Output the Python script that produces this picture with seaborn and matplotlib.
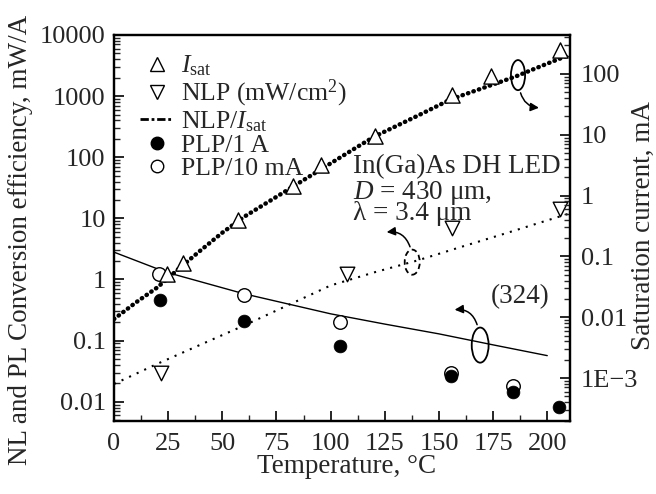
import numpy as np
import pandas as pd
import matplotlib
matplotlib.use('Agg')
import matplotlib.pyplot as plt
import seaborn as sns
from matplotlib.patches import Ellipse, FancyArrowPatch
from matplotlib.lines import Line2D
from matplotlib.ticker import FixedLocator, FixedFormatter, LogLocator, MultipleLocator, NullFormatter

# ---------------- data ----------------
# Saturation current (right axis, mA)
isat_T = [24.3, 31.7, 57.4, 82.5, 95.5, 120.4, 155.8, 174.0, 206.0]
isat_val = [0.051, 0.077, 0.39, 1.42, 3.14, 9.4, 45.0, 93.0, 247.0]
# fit curve for Isat (right axis)
isat_fit_T = [0, 10, 20, 30, 40, 50, 60, 70, 80, 90, 100, 110, 120, 140, 155, 160, 180, 186, 200, 210]
isat_fit_log = [-2.03, -1.76, -1.51, -1.20, -0.90, -0.61, -0.35, -0.13, 0.09, 0.31, 0.53, 0.75, 0.967,
                1.31, 1.574, 1.64, 1.89, 1.967, 2.17, 2.31]

# NLP (left axis, mW/cm^2)
nlp_T = [21.7, 107.4, 155.8, 206.0]
nlp_val = [0.030, 1.24, 6.9, 14.4]
nlp_fit_T = [0, 20, 40, 60, 80, 100, 120, 140, 160, 180, 200, 210]
nlp_fit_log = [-1.71, -1.38, -1.066, -0.754, -0.426, -0.098, 0.115, 0.31, 0.53, 0.746, 0.967, 1.077]

# NLP/Isat curve (left axis)
ratio_T = [0, 24, 60, 100, 125, 150, 175, 200]
ratio_log = [0.447, 0.12, -0.234, -0.562, -0.73, -0.89, -1.07, -1.246]

# PLP conversion efficiency (left axis)
plp1A_T = [21.2, 60.1, 104.3, 155.4, 184.3, 205.5]
plp1A_val = [0.453, 0.213, 0.083, 0.0267, 0.0146, 0.0081]
plp10_T = [20.9, 60.1, 104.3, 155.4, 184.3]
plp10_val = [1.21, 0.56, 0.205, 0.030, 0.018]

left_ticks = [10000, 1000, 100, 10, 1, 0.1, 0.01]
left_labels = ['10000', '1000', '100', '10', '1', '0.1', '0.01']
right_ticks = [100, 10, 1, 0.1, 0.01, 0.001]
right_labels = ['100', '10', '1', '0.1', '0.01', '1E\u22123']
x_ticks = [0, 25, 50, 75, 100, 125, 150, 175, 200]

# ---------------- style ----------------
sns.set_theme(style='ticks')
plt.rcParams['font.family'] = ['Liberation Serif', 'DejaVu Serif']
plt.rcParams['mathtext.fontset'] = 'custom'
plt.rcParams['mathtext.rm'] = 'Liberation Serif'
plt.rcParams['mathtext.it'] = 'Liberation Serif:italic'
plt.rcParams['axes.linewidth'] = 1.6
TICK_FS = 19
LAB_FS = 19.5
RLAB_FS = 19.5
LEG_FS = 18.5
ANN_FS = 19.5

fig = plt.figure(figsize=(6.56, 4.94), dpi=100)
ax = fig.add_axes([114/656, 1-420.7/494, 456/656, 385.7/494])
ax2 = ax.twinx()

df_nlpfit = pd.DataFrame({'T': nlp_fit_T, 'v': 10**np.array(nlp_fit_log)})
df_ratio = pd.DataFrame({'T': ratio_T, 'v': 10**np.array(ratio_log)})
df_isatfit = pd.DataFrame({'T': isat_fit_T, 'v': 10**np.array(isat_fit_log)})

sns.lineplot(data=df_nlpfit, x='T', y='v', ax=ax, color='black', lw=1.5,
             linestyle=(0, (1, 3)), sort=False, legend=False, estimator=None)
sns.lineplot(data=df_ratio, x='T', y='v', ax=ax, color='black', lw=1.0,
             sort=False, legend=False, estimator=None)
sns.lineplot(data=df_isatfit, x='T', y='v', ax=ax2, color='black', lw=3.2,
             linestyle=(0, (0.1, 1.2)), sort=False, legend=False, estimator=None)
for ln in ax2.lines:
    ln.set_dash_capstyle('round')

sns.scatterplot(x=nlp_T, y=nlp_val, ax=ax, marker='v', s=110, facecolor='white',
                edgecolor='black', linewidth=1.0, zorder=5, legend=False)
sns.scatterplot(x=plp10_T, y=plp10_val, ax=ax, marker='o', s=95, facecolor='white',
                edgecolor='black', linewidth=1.0, zorder=5, legend=False)
sns.scatterplot(x=plp1A_T, y=plp1A_val, ax=ax, marker='o', s=85, color='black',
                edgecolor='black', linewidth=0.5, zorder=6, legend=False)
sns.scatterplot(x=isat_T, y=isat_val, ax=ax2, marker='^', s=120, facecolor='white',
                edgecolor='black', linewidth=1.0, zorder=5, legend=False)

ax.set_yscale('log')
ax2.set_yscale('log')
ax.set_ylim(0.00489, 10000)
ax2.set_ylim(1.99e-4, 437)
ax.set_xlim(0, 210.5)

# ticks
ax.xaxis.set_major_locator(FixedLocator(x_ticks))
ax.xaxis.set_minor_locator(MultipleLocator(12.5))
ax.yaxis.set_major_locator(FixedLocator(left_ticks))
ax.yaxis.set_major_formatter(FixedFormatter(left_labels))
ax.yaxis.set_minor_locator(LogLocator(base=10, subs=np.arange(2, 10), numticks=20))
ax.yaxis.set_minor_formatter(NullFormatter())
ax2.yaxis.set_major_locator(FixedLocator(right_ticks))
ax2.yaxis.set_major_formatter(FixedFormatter(right_labels))
ax2.yaxis.set_minor_locator(LogLocator(base=10, subs=np.arange(2, 10), numticks=20))
ax2.yaxis.set_minor_formatter(NullFormatter())

ax.tick_params(axis='x', which='major', direction='in', length=7, width=1.4,
               labelsize=TICK_FS, top=False, pad=9)
ax.tick_params(axis='y', which='major', direction='in', length=7, width=1.4,
               labelsize=TICK_FS, right=False, pad=6)
ax.tick_params(axis='both', which='minor', direction='in', length=4, width=1.0,
               top=False, right=False)
ax2.tick_params(axis='y', which='major', direction='in', length=7, width=1.4,
                labelsize=TICK_FS, pad=8)
ax2.tick_params(axis='y', which='minor', direction='in', length=4, width=1.0)
for a in (ax, ax2):
    for s in a.spines.values():
        s.set_linewidth(1.6)
        s.set_color('black')

ax.set_xlabel('Temperature, \u00b0C', fontsize=LAB_FS)
ax.xaxis.set_label_coords(0.509, -0.12)
ax.xaxis.label.set_va('center')
ax.set_ylabel('NL and PL Conversion efficiency, mW/A', fontsize=LAB_FS)
ax.yaxis.set_label_coords(-0.206, 0.468)
ax.yaxis.label.set_va('center')
ax2.set_ylabel('Saturation current, mA', fontsize=RLAB_FS)
ax2.yaxis.set_label_coords(1.16, 0.507)
ax2.yaxis.label.set_va('center')

# legend
handles = [
    Line2D([], [], ls='none', marker='^', ms=10, mfc='white', mec='black', mew=1.0),
    Line2D([], [], ls='none', marker='v', ms=10, mfc='white', mec='black', mew=1.0),
    Line2D([], [], color='black', lw=2.0, ls=(0, (3, 1, 1, 1))),
    Line2D([], [], ls='none', marker='o', ms=9, mfc='black', mec='black'),
    Line2D([], [], ls='none', marker='o', ms=9, mfc='white', mec='black', mew=1.0),
]
labels = [r'$I_{\rm sat}$', r'NLP (mW/cm$^2$)', r'NLP/$I_{\rm sat}$', 'PLP/1 A', 'PLP/10 mA']
leg = ax2.legend(handles, labels, loc='upper left', bbox_to_anchor=(0.057, 0.952),
                 frameon=False, fontsize=LEG_FS, handlelength=1.3, handletextpad=0.3,
                 labelspacing=0.0, borderpad=0, borderaxespad=0)

# annotations
tr = ax.transAxes
ax.text(0.524, 0.659, 'In(Ga)As DH LED', transform=tr, fontsize=ANN_FS, ha='left', va='center')
ax.text(0.524, 0.591, '$D$ = 430 \u03bcm,', transform=tr,
        fontsize=ANN_FS, ha='left', va='center')
ax.text(0.524, 0.538, '\u03bb = 3.4 \u03bcm', transform=tr, fontsize=ANN_FS, ha='left', va='center')
ax.text(0.956, 0.321, '(324)', transform=tr, fontsize=ANN_FS, ha='right', va='center')

ax.add_patch(Ellipse((0.886, 0.896), 0.031, 0.078, transform=tr, fill=False, ec='black', lw=1.3))
ax.add_patch(Ellipse((0.654, 0.411), 0.033, 0.065, transform=tr, fill=False, ec='black', lw=1.3,
                     ls=(0, (3, 2))))
ax.add_patch(Ellipse((0.803, 0.196), 0.037, 0.091, transform=tr, fill=False, ec='black', lw=1.3))

for (p0, p1, rad) in [((0.890, 0.857), (0.938, 0.811), 0.4),
                      ((0.651, 0.444), (0.592, 0.488), 0.45),
                      ((0.798, 0.242), (0.741, 0.287), 0.45)]:
    ax.add_patch(FancyArrowPatch(p0, p1, transform=tr, connectionstyle=f'arc3,rad={rad}',
                                 arrowstyle='-|>,head_length=5,head_width=2.5', color='black', lw=1.1))

fig.savefig('out.png', dpi=100)
